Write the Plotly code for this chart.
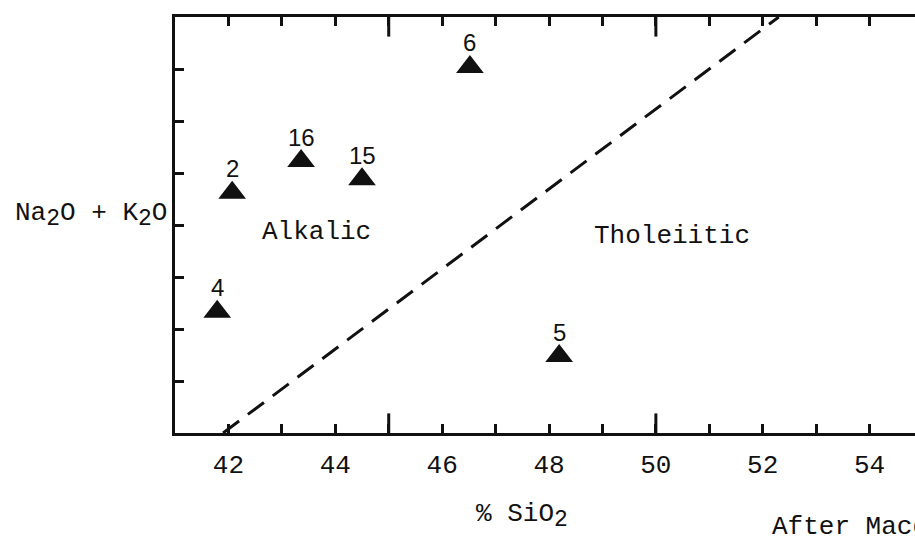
import plotly.graph_objects as go

# ---- data ----
sample_ids = ["2", "16", "15", "6", "4", "5"]
sio2 = [42.07, 43.36, 44.50, 46.52, 41.79, 48.19]
alkali = [4.62, 5.23, 4.88, 7.04, 2.33, 1.48]

divider_sio2 = [41.9, 52.3]
divider_alkali = [0.0, 8.0]

x_tick_vals = [42, 43, 44, 45, 46, 47, 48, 49, 50, 51, 52, 53, 54]
x_tick_text = ["42", "", "44", "", "46", "", "48", "", "50", "", "52", "", "54"]
x_long_vals = [45, 50]
y_tick_vals = [1, 2, 3, 4, 5, 6, 7]

X_RANGE = [41.0, 54.85]
Y_RANGE = [0, 8]

INK = "#111111"
MONO = "Liberation Mono, Courier New, monospace"
SANS = "Liberation Sans, Arial, sans-serif"
SUB = '<sub><span style="font-size:23px">2</span></sub>'

fig = go.Figure()

# longer marks at 45 and 50 on the bottom and top frame lines
# (clipped to the plot area so only the inner half shows)
for edge in (Y_RANGE[0], Y_RANGE[1]):
    fig.add_trace(go.Scatter(
        x=x_long_vals, y=[edge] * len(x_long_vals), mode="markers",
        marker=dict(symbol="line-ns", size=28, line=dict(width=3, color=INK)),
        cliponaxis=True, hoverinfo="skip", showlegend=False,
    ))

fig.add_trace(go.Scatter(
    x=divider_sio2, y=divider_alkali, mode="lines",
    line=dict(color=INK, width=3, dash="20px,11px"),
    hoverinfo="skip", showlegend=False,
))

fig.add_trace(go.Scatter(
    x=sio2, y=alkali, mode="markers",
    marker=dict(symbol="triangle-up", size=24, color=INK),
    showlegend=False,
))

point_labels = [
    dict(text=t, x=xv, y=yv, xref="x", yref="y", showarrow=False,
         yanchor="middle", yshift=24,
         font=dict(family=SANS, size=24, color=INK))
    for t, xv, yv in zip(sample_ids, sio2, alkali)
]

fig.update_layout(
    width=915, height=538,
    margin=dict(l=175, r=0, t=17, b=105),
    paper_bgcolor="white", plot_bgcolor="white",
    font=dict(family=MONO, color=INK, size=26),
    xaxis=dict(
        range=X_RANGE, tickmode="array", tickvals=x_tick_vals, ticktext=x_tick_text,
        ticks="inside", ticklen=9, tickwidth=3, tickcolor=INK,
        showline=True, linewidth=3, linecolor=INK, mirror="ticks",
        showgrid=False, zeroline=False, ticklabelstandoff=6,
        tickfont=dict(family=MONO, size=26, color=INK),
    ),
    yaxis=dict(
        range=Y_RANGE, tickmode="array", tickvals=y_tick_vals,
        ticks="inside", ticklen=9, tickwidth=2.5, tickcolor=INK,
        showticklabels=False, showline=True, linewidth=3, linecolor=INK,
        mirror=False, showgrid=False, zeroline=False,
    ),
    annotations=point_labels + [
        dict(text="Alkalic", x=43.64, y=3.87, xref="x", yref="y", showarrow=False,
             font=dict(family=MONO, size=26, color=INK)),
        dict(text="Tholeiitic", x=50.30, y=3.79, xref="x", yref="y", showarrow=False,
             font=dict(family=MONO, size=26, color=INK)),
        dict(text="Na" + SUB + "O + K" + SUB + "O", x=0, y=0.525, xref="paper", yref="paper",
             xanchor="right", yanchor="middle", xshift=-6, showarrow=False,
             font=dict(family=MONO, size=26, color=INK)),
        dict(text="% SiO" + SUB, x=0.469, y=-0.2, xref="paper", yref="paper",
             xanchor="center", yanchor="middle", showarrow=False,
             font=dict(family=MONO, size=26, color=INK)),
        dict(text="After Macdonald and Katsura (1964)", x=0.804, y=-0.226,
             xref="paper", yref="paper", xanchor="left", yanchor="middle",
             showarrow=False, font=dict(family=MONO, size=26, color=INK)),
    ],
)

fig.write_html("out.html")
